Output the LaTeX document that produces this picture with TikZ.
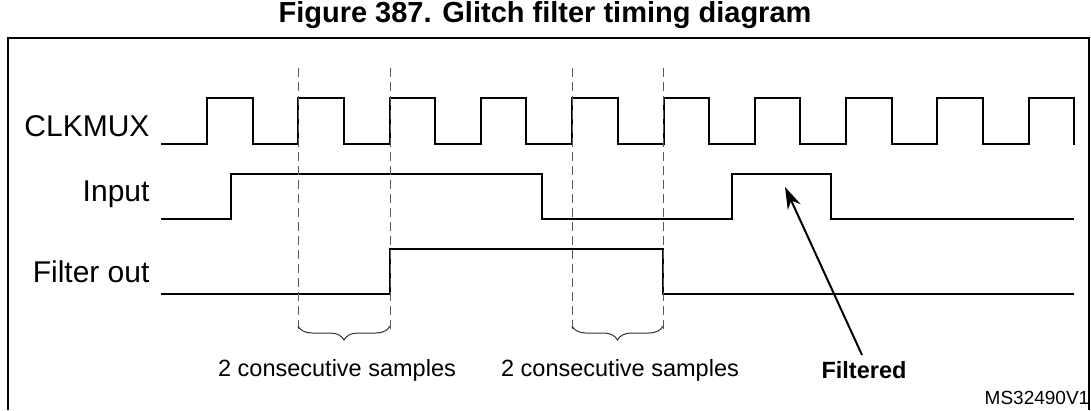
\documentclass[tikz,border=0pt]{standalone}
\usepackage{fontspec}
\setmainfont{Liberation Sans}
\usetikzlibrary{decorations.pathreplacing,arrows.meta}
\begin{document}
\begin{tikzpicture}[x=1pt,y=-1pt,
  wave/.style={line width=2pt,line join=miter},
  vguide/.style={dash pattern=on 9pt off 5pt,line width=0.9pt,gray!70!black},
  lab/.style={anchor=east,font=\fontsize{30}{32}\selectfont},
  note/.style={font=\fontsize{23.5}{26}\selectfont}]
\useasboundingbox (0,0) rectangle (1091,410);
\node[font=\bfseries\fontsize{29}{32}\selectfont] (title) at (545,15) {Figure 387. Glitch filter timing diagram};
\draw[line width=1.5pt] (8,410) -- (8,38) -- (1089,38) -- (1089,410);
\node[lab] (l1) at (153,126) {CLKMUX};
\node[lab] (l2) at (153,194) {Input};
\node[lab] (l3) at (153,272) {Filter out};
% clock
\draw[wave] (161,144)
  \foreach \k in {0,...,9}{ -- ({207+91.3*\k},144) -- ({207+91.3*\k},98) -- ({252.5+91.3*\k},98) -- ({252.5+91.3*\k},144)} -- (1074,144) -- (1074,98);
% input
\draw[wave] (161,219) -- (231,219) -- (231,174) -- (542,174) -- (542,219) -- (732,219) -- (732,174) -- (831,174) -- (831,219) -- (1074,219);
% filter out
\draw[wave] (161,294) -- (390,294) -- (390,249) -- (663,249) -- (663,294) -- (1074,294);
% dashed
\foreach \x in {298,390,572,663}{\draw[vguide] (\x,68) -- (\x,330);}
\draw[line width=1pt,gray!40!black,decorate,decoration={brace,mirror,amplitude=14pt}] (298,326) -- (390,326);
\draw[line width=1pt,gray!40!black,decorate,decoration={brace,mirror,amplitude=14pt}] (572,326) -- (663,326);
\node[note] (s1) at (337,370) {2 consecutive samples};
\node[note] (s2) at (620,370) {2 consecutive samples};
\node[note,font=\bfseries\fontsize{23.5}{26}\selectfont] (f) at (864,370) {Filtered};
\coordinate (tip) at (785,187);
\draw[line width=2pt,-{Stealth[length=22pt,width=14pt]}] (862,355) -- (tip);
\node[font=\fontsize{19}{21}\selectfont] (ms) at (1037,398) {MS32490V1};
\end{tikzpicture}
\end{document}
